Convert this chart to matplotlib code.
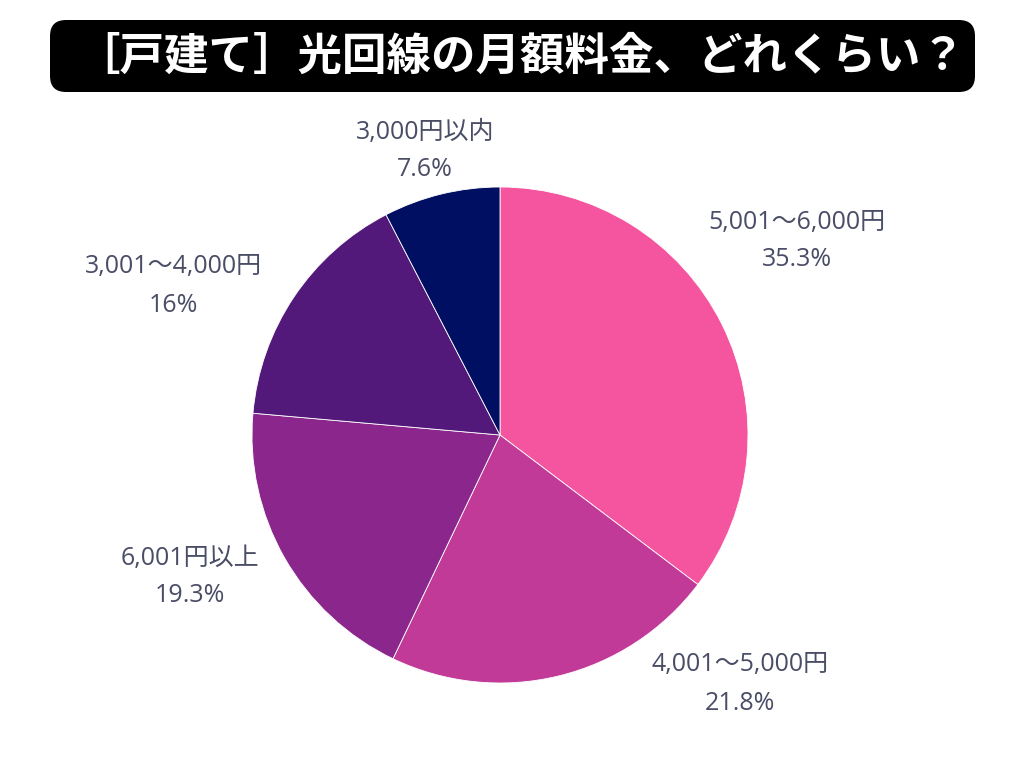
import matplotlib.pyplot as plt
from matplotlib.patches import FancyBboxPatch

plt.rcParams["font.family"] = ["Noto Sans CJK JP", "DejaVu Sans"]

TITLE = "［戸建て］光回線の月額料金、どれくらい？"
CATEGORIES = ["5,001〜6,000円", "4,001〜5,000円", "6,001円以上", "3,001〜4,000円", "3,000円以内"]
SHARES = [35.3, 21.8, 19.3, 16, 7.6]
SHARE_LABELS = ["35.3%", "21.8%", "19.3%", "16%", "7.6%"]
COLORS = ["#F5549E", "#C13A98", "#8B278C", "#53197A", "#000F62"]

# label centres (pixel coords from top-left), layout only
LABEL_POS = [(797, 241), (740, 684), (190, 577), (173, 286), (425, 151)]
CENTER = (500, 435)
RADIUS = 248
W, H = 1024, 768
LABEL_FONT = ["Open Sans", "Noto Sans CJK JP"]

fig = plt.figure(figsize=(W / 100, H / 100), dpi=100)
ax = fig.add_axes([0, 0, 1, 1])

ax.pie(
    SHARES,
    colors=COLORS,
    startangle=90,
    counterclock=False,
    center=(CENTER[0], H - CENTER[1]),
    radius=RADIUS,
    wedgeprops={"edgecolor": "white", "linewidth": 0.6},
    frame=True,
)
ax.set_xlim(0, W)
ax.set_ylim(0, H)
ax.set_aspect("equal")
ax.axis("off")

for cat, lab, (x, y) in zip(CATEGORIES, SHARE_LABELS, LABEL_POS):
    ax.text(x, H - y + 19, cat, ha="center", va="center", fontsize=18,
            color="#4A4D66", family=LABEL_FONT)
    ax.text(x, H - y - 19, lab, ha="center", va="center", fontsize=18,
            color="#4A4D66", family=LABEL_FONT)

box = FancyBboxPatch((62, H - 80), 901, 48, boxstyle="round,pad=12,rounding_size=16",
                     facecolor="black", edgecolor="none")
ax.add_patch(box)
ax.text(520, H - 57, TITLE, ha="center", va="center", fontsize=32,
        fontweight="bold", color="white")

fig.savefig("out.png", dpi=100)
